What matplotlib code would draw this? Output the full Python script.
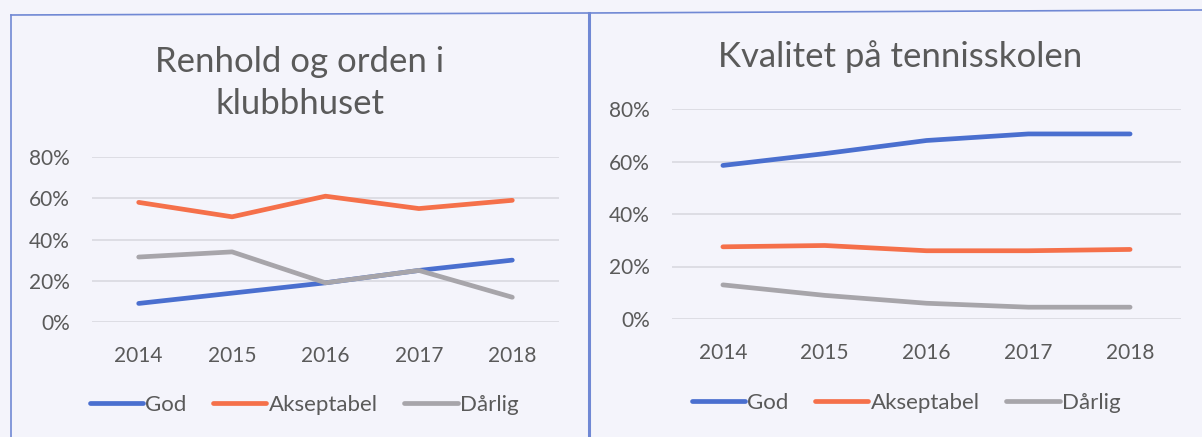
import matplotlib.pyplot as plt
from matplotlib.lines import Line2D
from matplotlib.ticker import PercentFormatter

years = ['2014', '2015', '2016', '2017', '2018']
series_names = ['God', 'Akseptabel', 'Dårlig']

# Renhold og orden i klubbhuset (%)
renhold_god = [9, 14, 19, 25, 30]
renhold_akseptabel = [58, 51, 61, 55, 59]
renhold_darlig = [31.5, 34, 19, 25, 12]

# Kvalitet på tennisskolen (%)
tennis_god = [58.5, 63, 68, 70.5, 70.5]
tennis_akseptabel = [27.5, 28, 26, 26, 26.5]
tennis_darlig = [13, 9, 6, 4.5, 4.5]

colors = ['#4a6fcf', '#f5704a', '#a7a5aa']
bg = '#f4f4fb'
text_col = '#5a5a5a'
grid_col = '#d9d9e0'

plt.rcParams['font.family'] = ['Lato', 'DejaVu Sans']

W, H = 1202, 437
fig = plt.figure(figsize=(W / 100, H / 100), dpi=100, facecolor=bg)


def px_axes(x0, x1, y_top, y_bot):
    return fig.add_axes([x0 / W, 1 - y_bot / H, (x1 - x0) / W, (y_bot - y_top) / H])


def draw_panel(ax, data, title, title_xy, legend_x, legend_y):
    ax.set_facecolor(bg)
    for vals, name, c in zip(data, series_names, colors):
        ax.plot(range(len(years)), vals, color=c, lw=3.4, label=name,
                solid_capstyle='round')
    ax.set_xlim(-0.5, len(years) - 0.5)
    ax.set_ylim(0, 80)
    ax.set_yticks([0, 20, 40, 60, 80])
    ax.yaxis.set_major_formatter(PercentFormatter(decimals=0))
    ax.set_xticks(range(len(years)))
    ax.set_xticklabels(years)
    ax.grid(axis='y', color=grid_col, lw=1.2)
    ax.set_axisbelow(True)
    for s in ax.spines.values():
        s.set_visible(False)
    ax.tick_params(axis='both', length=0, labelsize=15, colors=text_col)
    ax.tick_params(axis='y', pad=16)
    ax.tick_params(axis='x', pad=17)
    fig.text(title_xy[0] / W, 1 - title_xy[1] / H, title, ha='center', va='center',
             fontsize=25, color=text_col, linespacing=1.42)
    leg = ax.legend(loc='center', bbox_to_anchor=(legend_x / W, 1 - legend_y / H),
                    bbox_transform=fig.transFigure, ncol=3, frameon=False,
                    fontsize=16, handlelength=2.4, handletextpad=0.1,
                    columnspacing=1.2)
    for t in leg.get_texts():
        t.set_color(text_col)


ax1 = px_axes(92, 559, 157, 322)
draw_panel(ax1, [renhold_god, renhold_akseptabel, renhold_darlig],
           'Renhold og orden i\nklubbhuset', (300, 83), 304, 405)

ax2 = px_axes(672, 1181, 109, 319)
draw_panel(ax2, [tennis_god, tennis_akseptabel, tennis_darlig],
           'Kvalitet på tennisskolen', (900, 57), 906, 403)

# panel borders
border = '#7088d4'
fig.add_artist(Line2D([11 / W, 11 / W], [0, 1 - 15 / H], color=border, lw=1.2))
fig.add_artist(Line2D([11 / W, 589 / W], [1 - 15 / H, 1 - 13 / H], color=border, lw=1.2))
fig.add_artist(Line2D([589 / W, 1], [1 - 13 / H, 1 - 10 / H], color=border, lw=1.2))
fig.add_artist(Line2D([589 / W, 589 / W], [0, 1 - 13 / H], color=border, lw=2.2))

fig.savefig('out.png', dpi=100, facecolor=bg)
